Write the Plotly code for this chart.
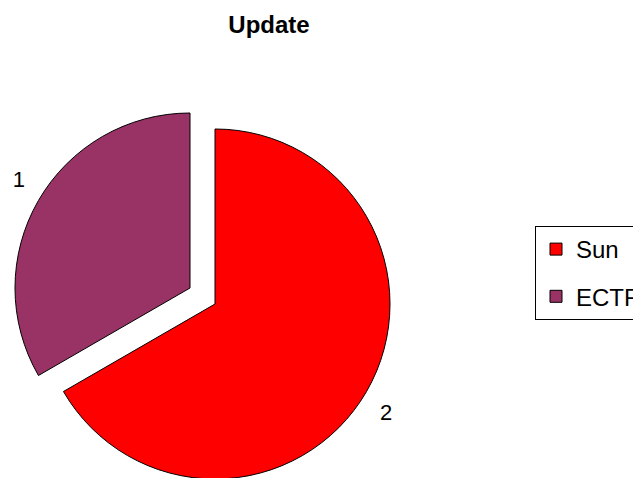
import plotly.graph_objects as go

labels = ["Sun", "ECTF"]
values = [2, 1]
colors = ["#FF0000", "#993366"]
title_text = "Update"

FONT = "Liberation Sans, Arial, sans-serif"
W, H = 680, 478   # figure slightly wider than the window so the legend runs off the edge

fig = go.Figure()

# legend carriers (tiny pies hidden underneath the main red slice)
for lab, val, col in zip(labels, values, colors):
    fig.add_trace(go.Pie(
        labels=[lab], values=[val], sort=False,
        marker=dict(colors=[col], line=dict(color="black", width=1)),
        textinfo="none", hoverinfo="skip", showlegend=True,
        legendgroup=lab,
        domain=dict(x=[300 / W, 302 / W], y=[0.2, 0.204]),
    ))

# outside-label padding so the numbers sit a little further from the rim
label_fmt = ["\u00a0<br>{}", "{}<br>\u00a0"]

def part(idx_visible):
    cols = [c if i == idx_visible else "rgba(0,0,0,0)" for i, c in enumerate(colors)]
    widths = [1 if i == idx_visible else 0 for i in range(len(values))]
    texts = [label_fmt[i].format(v) if i == idx_visible else "" for i, v in enumerate(values)]
    return cols, widths, texts

# main Sun slice
cols, widths, texts = part(0)
fig.add_trace(go.Pie(
    labels=labels, values=values, sort=False, direction="clockwise", rotation=0,
    marker=dict(colors=cols, line=dict(color="black", width=widths)),
    text=texts, textinfo="text", textposition="outside",
    textfont=dict(family=FONT, size=22, color="black"),
    showlegend=False, hoverinfo="label+value",
    domain=dict(x=[32 / W, 382 / W], y=[7 / H, 357 / H]),
))

# exploded ECTF slice
cols, widths, texts = part(1)
fig.add_trace(go.Pie(
    labels=labels, values=values, sort=False, direction="clockwise", rotation=0,
    marker=dict(colors=cols, line=dict(color="black", width=widths)),
    text=texts, textinfo="text", textposition="outside",
    textfont=dict(family=FONT, size=22, color="black"),
    showlegend=False, hoverinfo="label+value",
    domain=dict(x=[7 / W, 357 / W], y=[23 / H, 373 / H]),
))

fig.update_layout(
    width=W, height=H,
    margin=dict(l=0, r=0, t=0, b=0),
    paper_bgcolor="white", plot_bgcolor="white",
    title=dict(text=title_text, x=261 / W, xanchor="center", y=1 - 16.5 / H, yanchor="middle",
               font=dict(family=FONT, size=24, color="black", weight="bold")),
    legend=dict(x=527 / W, xanchor="left", y=1 - 265 / H, yanchor="middle",
                bordercolor="black", borderwidth=1, bgcolor="white",
                font=dict(family=FONT, size=24, color="black"),
                traceorder="grouped", tracegroupgap=13),
    font=dict(family=FONT),
)

fig.write_html("out.html")
